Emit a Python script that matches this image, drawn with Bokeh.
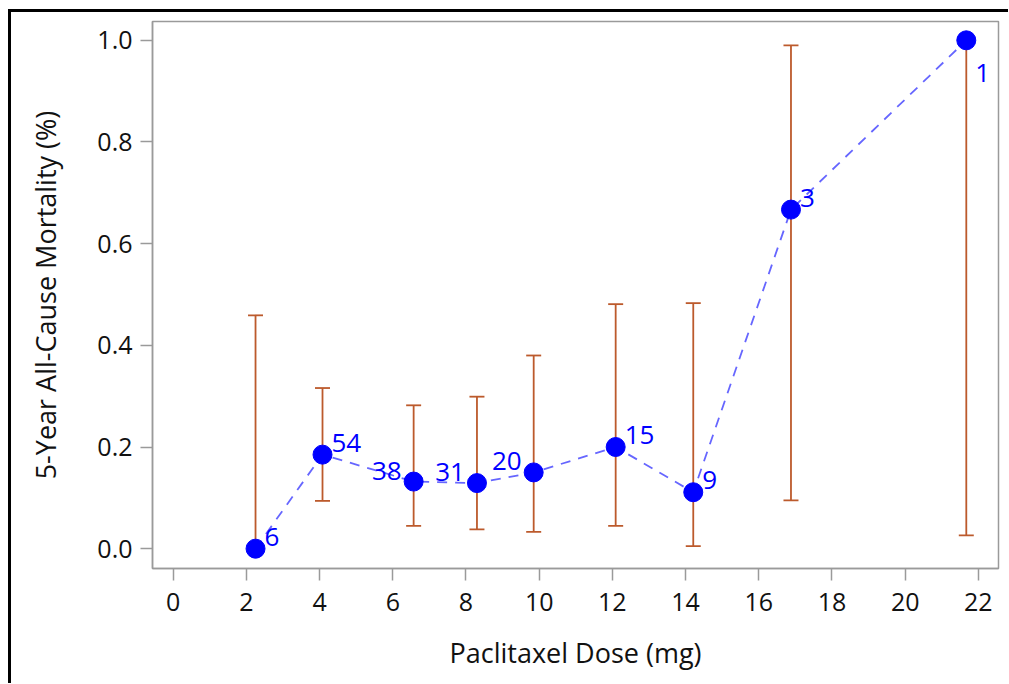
from bokeh.plotting import figure
from bokeh.models import ColumnDataSource, FixedTicker, NumeralTickFormatter, Range1d
from bokeh.embed import file_html
from bokeh.resources import INLINE
from bokeh.core.properties import value

# ---- data ----
dose = [2.25, 4.08, 6.57, 8.30, 9.85, 12.09, 14.21, 16.88, 21.67]
mortality = [0.0, 0.185, 0.132, 0.129, 0.150, 0.200, 0.111, 0.667, 1.0]
lower = [0.0, 0.094, 0.045, 0.038, 0.033, 0.045, 0.005, 0.095, 0.026]
upper = [0.459, 0.316, 0.282, 0.299, 0.380, 0.481, 0.483, 0.990, 1.0]
counts = ["6", "54", "38", "31", "20", "15", "9", "3", "1"]
x_ticks = [0, 2, 4, 6, 8, 10, 12, 14, 16, 18, 20, 22]
y_ticks = [0.0, 0.2, 0.4, 0.6, 0.8, 1.0]

# label placement relative to each point (ne = upper right, nw = upper left, se = lower right)
label_side = ["ne", "ne", "nw", "nw", "nw", "ne", "ne", "ne", "se"]

FONT = "Open Sans"
BAR = "#BC5A2C"
BLUE = "#0000FF"

src = ColumnDataSource(dict(x=dose, y=mortality, lo=lower, hi=upper, n=counts))

p = figure(width=997, height=671, frame_width=846, frame_height=547,
           min_border_left=141, min_border_right=10, min_border_top=9, min_border_bottom=115,
           x_range=Range1d(-0.565, 22.55), y_range=Range1d(-0.039, 1.037),
           output_backend="svg", toolbar_location=None)
p.styles = {"margin-left": "8px", "margin-top": "9px",
            "border-left": "3px solid black", "border-top": "3px solid black"}

p.xgrid.visible = False
p.ygrid.visible = False
p.outline_line_color = "#9a9a9a"
p.outline_line_width = 1.5
p.background_fill_color = "white"
p.border_fill_color = "white"

for ax in (p.xaxis, p.yaxis):
    ax.axis_line_color = "#9a9a9a"
    ax.axis_line_width = 1.5
    ax.major_tick_line_color = "#9a9a9a"
    ax.major_tick_line_width = 1.5
    ax.major_tick_out = 12
    ax.major_tick_in = 0
    ax.minor_tick_line_color = None
    ax.major_label_text_font = FONT
    ax.major_label_text_font_size = "25px"
    ax.major_label_text_color = "#111111"
    ax.axis_label_text_font = FONT
    ax.axis_label_text_font_size = "27px"
    ax.axis_label_text_font_style = "normal"
    ax.axis_label_text_color = "#111111"

p.xaxis.ticker = FixedTicker(ticks=x_ticks)
p.yaxis.ticker = FixedTicker(ticks=y_ticks)
p.yaxis.formatter = NumeralTickFormatter(format="0.0")
p.xaxis.axis_label = "Paclitaxel Dose (mg)"
p.yaxis.axis_label = "5-Year All-Cause Mortality (%)"
p.xaxis.major_label_standoff = 12
p.yaxis.major_label_standoff = 8
p.xaxis.axis_label_standoff = 20
p.yaxis.axis_label_standoff = 30

# error bars
p.segment(x0="x", y0="lo", x1="x", y1="hi", source=src, line_color=BAR, line_width=1.8)
p.scatter(x="x", y="lo", source=src, marker="dash", size=15, line_color=BAR, line_width=1.8)
p.scatter(x="x", y="hi", source=src, marker="dash", size=15, line_color=BAR, line_width=1.8)

# dashed connecting line
p.line(x="x", y="y", source=src, line_color=BLUE, line_alpha=0.6, line_width=1.8, line_dash="10 8")

# points
p.scatter(x="x", y="y", source=src, marker="circle", size=19, fill_color=BLUE, line_color=BLUE)

# count labels
offsets = {"ne": (9, -12, "left"), "nw": (-12, -11, "right"), "se": (9, 33, "left")}
for side, (dx, dy, align) in offsets.items():
    idx = [i for i, s in enumerate(label_side) if s == side]
    if not idx:
        continue
    s = ColumnDataSource(dict(x=[dose[i] for i in idx], y=[mortality[i] for i in idx],
                              t=[counts[i] for i in idx]))
    p.text(x="x", y="y", text="t", source=s, x_offset=dx, y_offset=dy,
           text_align=align, text_baseline="alphabetic", text_color=BLUE,
           text_font=value(FONT), text_font_size="26px")

open("out.html", "w").write(file_html(p, INLINE))
